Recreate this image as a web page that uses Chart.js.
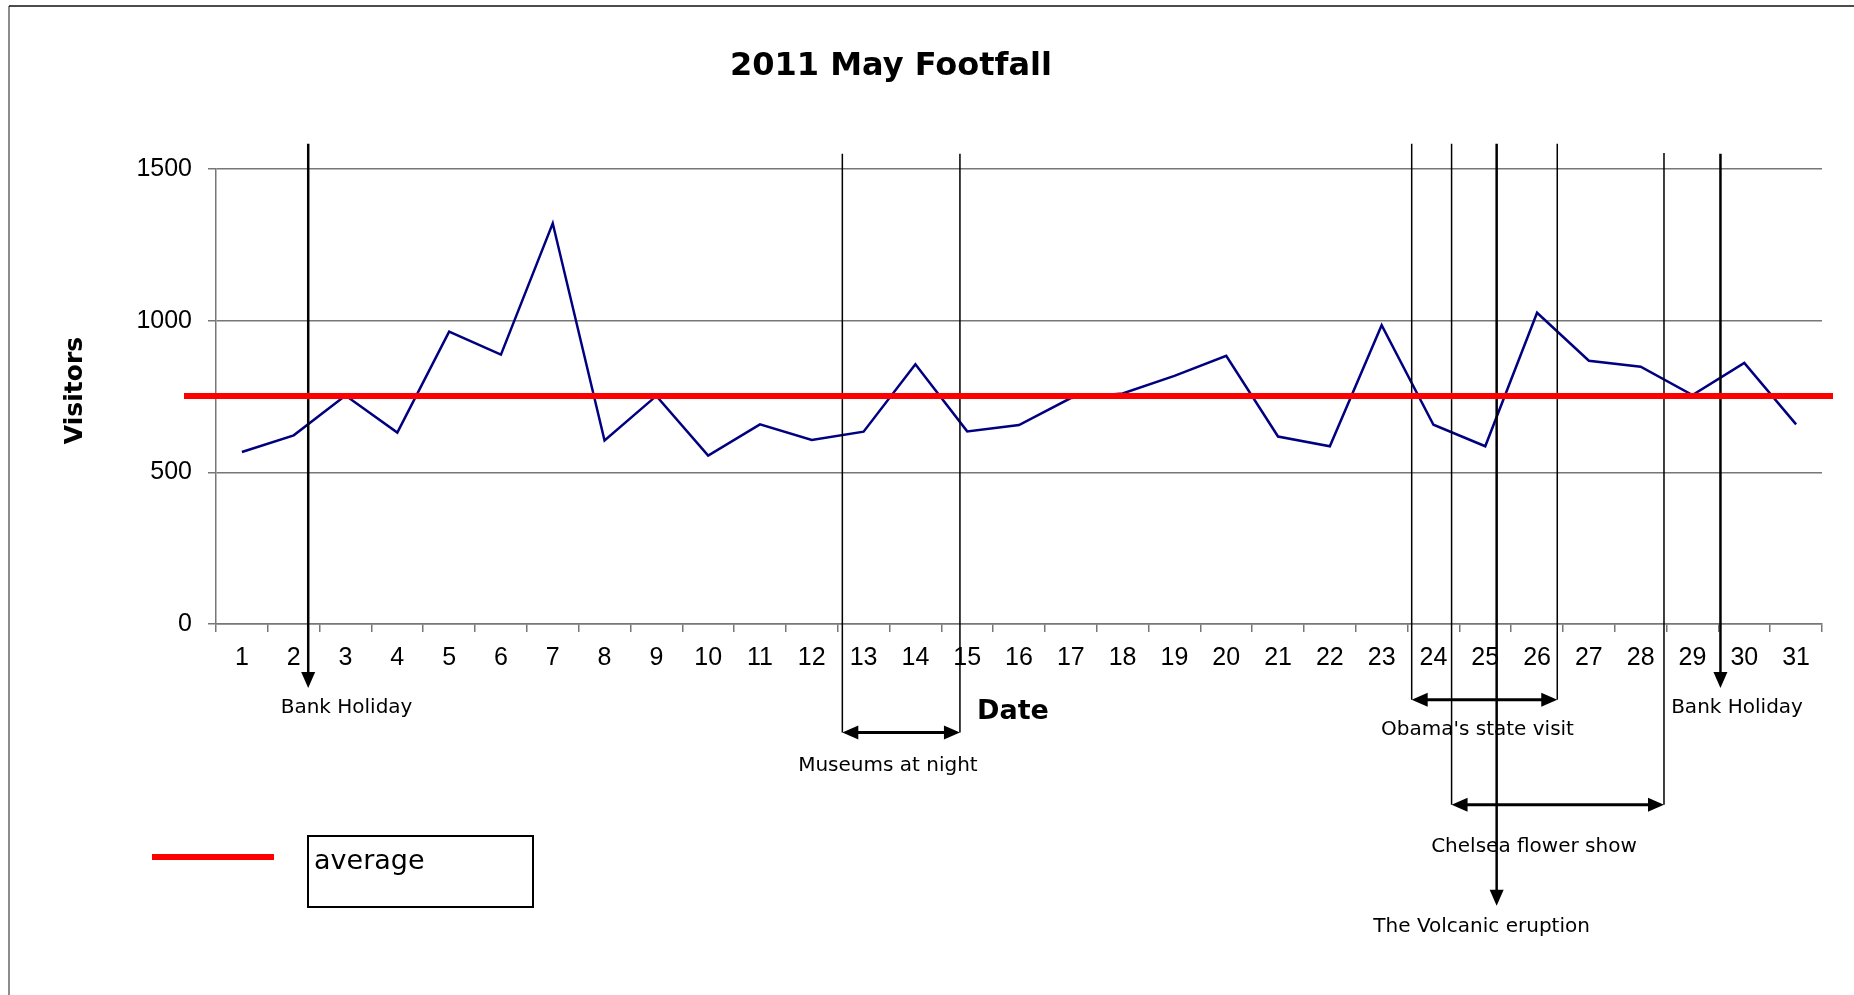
<!DOCTYPE html>
<html><head><meta charset="utf-8">
<script src="https://cdn.jsdelivr.net/npm/chart.js@4.4.0/dist/chart.umd.min.js"></script>
<style>html,body{margin:0;padding:0;background:#fff;overflow:hidden;} canvas{display:block;}</style>
</head><body>
<canvas id="c" width="1854" height="995"></canvas>
<script>
// ---- data ----
const dates = ['1','2','3','4','5','6','7','8','9','10','11','12','13','14','15','16','17','18','19','20','21','22','23','24','25','26','27','28','29','30','31'];
const visitors = [567,622,753,631,964,888,1321,605,752,555,658,607,634,856,635,656,745,760,818,884,618,586,985,657,586,1026,868,848,755,861,658];
const averageVisitors = 752;
const yTicks = [0, 500, 1000, 1500];
const chartTitle = '2011 May Footfall';
const xTitle = 'Date';
const yTitle = 'Visitors';
const legendLabel = 'average';

// event annotations, expressed in date / visitor units
const singleArrows = [
  {date: 2.28, top: 1583, tip: -211, label: 'Bank Holiday', labelDate: 3.02, labelValue: -275},
  {date: 29.54, top: 1550, tip: -211, label: 'Bank Holiday', labelDate: 29.86, labelValue: -275},
  {date: 25.22, top: 1583, tip: -929, label: 'The Volcanic eruption', labelDate: 24.93, labelValue: -998}
];
const spanArrows = [
  {from: 12.59, to: 14.86, topFrom: 1550, topTo: 1550, at: -358, label: 'Museums at night', labelDate: 13.47, labelValue: -467},
  {from: 23.58, to: 26.39, topFrom: 1583, topTo: 1583, at: -250, label: "Obama's state visit", labelDate: 24.85, labelValue: -348},
  {from: 24.35, to: 28.45, topFrom: 1583, topTo: 1553, at: -596, label: 'Chelsea flower show', labelDate: 25.94, labelValue: -733}
];

function arrowHead(ctx, x, y, dir, len, half) {
  ctx.beginPath();
  if (dir === 'down') { ctx.moveTo(x, y); ctx.lineTo(x - half, y - len); ctx.lineTo(x + half, y - len); }
  else if (dir === 'left') { ctx.moveTo(x, y); ctx.lineTo(x + len, y - half); ctx.lineTo(x + len, y + half); }
  else { ctx.moveTo(x, y); ctx.lineTo(x - len, y - half); ctx.lineTo(x - len, y + half); }
  ctx.closePath(); ctx.fill();
}

const overlay = {
  id: 'overlay',
  beforeDraw(chart) {
    const ctx = chart.ctx;
    ctx.save();
    ctx.fillStyle = '#fff'; ctx.fillRect(0, 0, chart.width, chart.height);
    ctx.lineWidth = 1.5;
    ctx.strokeStyle = '#666';
    ctx.beginPath(); ctx.moveTo(9, 6); ctx.lineTo(9, chart.height); ctx.stroke();
    ctx.strokeStyle = '#111';
    ctx.beginPath(); ctx.moveTo(9, 6); ctx.lineTo(chart.width, 6); ctx.stroke();
    ctx.restore();
  },
  afterDraw(chart) {
    const {ctx, chartArea: ca, scales: {x, y}} = chart;
    const px = d => x.getPixelForValue(d - 1);
    const py = v => y.getPixelForValue(v);
    ctx.save();
    ctx.strokeStyle = '#000'; ctx.fillStyle = '#000';
    // single arrows
    singleArrows.forEach(a => {
      const xx = px(a.date);
      ctx.lineWidth = 2.5;
      ctx.beginPath(); ctx.moveTo(xx, py(a.top)); ctx.lineTo(xx, py(a.tip) - 12); ctx.stroke();
      arrowHead(ctx, xx, py(a.tip), 'down', 16, 7);
    });
    // span arrows
    spanArrows.forEach(s => {
      const x1 = px(s.from), x2 = px(s.to), yy = py(s.at);
      ctx.lineWidth = 1.5;
      ctx.beginPath();
      ctx.moveTo(x1, py(s.topFrom)); ctx.lineTo(x1, yy);
      ctx.moveTo(x2, py(s.topTo)); ctx.lineTo(x2, yy);
      ctx.stroke();
      ctx.lineWidth = 3;
      ctx.beginPath(); ctx.moveTo(x1 + 10, yy); ctx.lineTo(x2 - 10, yy); ctx.stroke();
      arrowHead(ctx, x1, yy, 'left', 16, 7);
      arrowHead(ctx, x2, yy, 'right', 16, 7);
    });
    // average line
    ctx.strokeStyle = '#ff0000'; ctx.lineWidth = 6;
    const ay = py(averageVisitors);
    ctx.beginPath(); ctx.moveTo(ca.left - 32, ay); ctx.lineTo(ca.right + 11, ay); ctx.stroke();

    // labels
    ctx.fillStyle = '#000';
    ctx.textAlign = 'center'; ctx.textBaseline = 'middle';
    ctx.font = '20px "DejaVu Sans"';
    singleArrows.forEach(a => ctx.fillText(a.label, px(a.labelDate), py(a.labelValue)));
    spanArrows.forEach(s => ctx.fillText(s.label, px(s.labelDate), py(s.labelValue)));

    // titles
    ctx.font = 'bold 32px "DejaVu Sans"';
    ctx.fillText(chartTitle, 891, 67);
    ctx.font = 'bold 27px "DejaVu Sans"';
    ctx.fillText(xTitle, (ca.left + ca.right) / 2 - 6, 712);
    ctx.save();
    ctx.translate(75, (ca.top + ca.bottom) / 2 - 6);
    ctx.rotate(-Math.PI / 2);
    ctx.font = 'bold 25px "DejaVu Sans"';
    ctx.fillText(yTitle, 0, 0);
    ctx.restore();

    // legend
    ctx.strokeStyle = '#ff0000'; ctx.lineWidth = 6;
    ctx.beginPath(); ctx.moveTo(152, 857); ctx.lineTo(274, 857); ctx.stroke();
    ctx.strokeStyle = '#000'; ctx.lineWidth = 2;
    ctx.strokeRect(308, 836, 225, 71);
    ctx.textAlign = 'left'; ctx.textBaseline = 'alphabetic';
    ctx.font = '27px "DejaVu Sans"';
    ctx.fillText(legendLabel, 314, 869);
    ctx.restore();
  }
};

new Chart(document.getElementById('c'), {
  type: 'line',
  data: {
    labels: dates,
    datasets: [{
      label: 'Visitors',
      data: visitors,
      borderColor: '#000080',
      borderWidth: 2.5,
      pointRadius: 0,
      tension: 0,
      fill: false
    }]
  },
  options: {
    responsive: false,
    animation: false,
    devicePixelRatio: 1,
    layout: {padding: {left: 116, right: 32, top: 169, bottom: 311}},
    plugins: {legend: {display: false}, title: {display: false}, tooltip: {enabled: false}},
    scales: {
      x: {
        type: 'category',
        offset: true,
        grid: {offset: true, drawOnChartArea: false, drawTicks: true, tickLength: 8, color: '#777', lineWidth: 1.5},
        border: {display: true, color: '#777', width: 1.5},
        ticks: {color: '#000', font: {family: '"Liberation Sans", Arial', size: 25}, padding: 11, maxRotation: 0, autoSkip: false},
        afterFit(scale) { scale.height = 60; }
      },
      y: {
        min: yTicks[0], max: yTicks[yTicks.length - 1],
        afterBuildTicks(scale) { scale.ticks = yTicks.map(v => ({value: v})); },
        grid: {color: '#777', lineWidth: 1.5, tickLength: 8, drawTicks: true},
        border: {display: true, color: '#777', width: 1.5},
        ticks: {color: '#000', font: {family: '"Liberation Sans", Arial', size: 25}, padding: 16, callback: v => String(v)},
        afterFit(scale) { scale.width = 100; }
      }
    }
  },
  plugins: [overlay]
});
</script>
</body></html>
